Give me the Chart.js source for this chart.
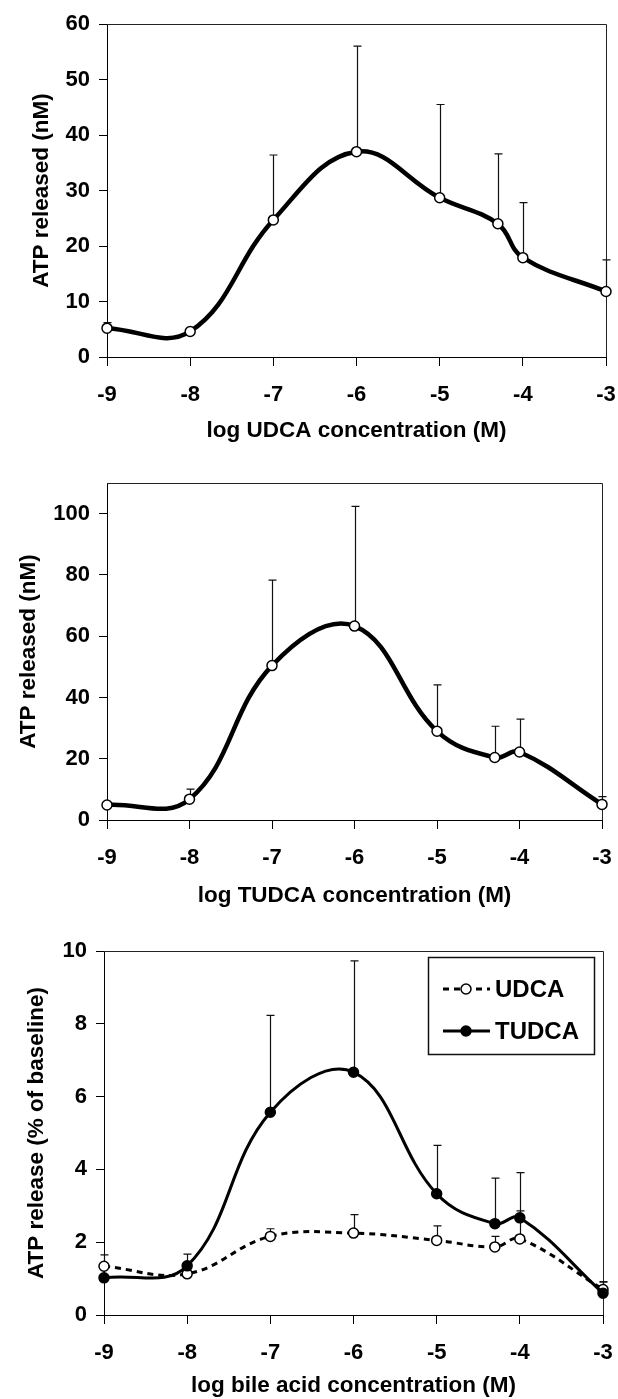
<!DOCTYPE html>
<html>
<head>
<meta charset="utf-8">
<script src="https://cdn.jsdelivr.net/npm/chart.js@4.4.1/dist/chart.umd.min.js"></script>
<style>
    html, body { margin: 0; padding: 0; background: #fff; }
    body { width: 618px; height: 1399px; position: relative; overflow: hidden; }
    canvas { position: absolute; left: 0; }
</style>
</head>
<body>
<canvas id="udcaChart" width="618" height="460" style="top:0px"></canvas>
<canvas id="tudcaChart" width="618" height="460" style="top:460px"></canvas>
<canvas id="compareChart" width="618" height="479" style="top:920px"></canvas>
<script>
// log molar concentrations (5e-5 M sits at -4.3)
const logConc = [-9, -8, -7, -6, -5, -4.3, -4, -3];
const xTicks = [-9, -8, -7, -6, -5, -4, -3];

// panel A: UDCA, ATP released (nM), mean and upper SD
const udcaNM = [5.2, 4.6, 24.7, 37.0, 28.7, 24.0, 17.9, 11.8];
const udcaNMSd = [1.0, null, 11.7, 19.0, 16.8, 12.6, 9.9, 5.7];
const udcaTicks = [0, 10, 20, 30, 40, 50, 60];

// panel B: TUDCA, ATP released (nM)
const tudcaNM = [4.9, 6.8, 50.4, 63.3, 29.0, 20.4, 22.2, 5.1];
const tudcaNMSd = [null, 3.3, 27.9, 39.1, 15.1, 10.2, 10.7, 2.5];
const tudcaTicks = [0, 20, 40, 60, 80, 100];

// panel C: ATP release (% of baseline)
const udcaPct = [1.34, 1.13, 2.16, 2.25, 2.05, 1.87, 2.09, 0.70];
const udcaPctSd = [0.31, null, 0.21, 0.51, 0.40, 0.29, 0.77, 0.20];
const tudcaPct = [1.02, 1.35, 5.57, 6.67, 3.33, 2.51, 2.67, 0.60];
const tudcaPctSd = [null, 0.32, 2.66, 3.06, 1.33, 1.25, 1.24, 0.32];
const pctTicks = [0, 2, 4, 6, 8, 10];

const FONT = "'Liberation Sans', Arial, Helvetica, sans-serif";
Chart.defaults.font.family = FONT;
Chart.defaults.color = '#000';

function toPoints(ys) {
    return logConc.map((x, i) => ({ x: x, y: ys[i] }));
}

// box round the plot area (left and bottom come from the axes)
const framePlugin = {
    id: 'frame',
    beforeDatasetsDraw(chart) {
        const a = chart.chartArea;
        const ctx = chart.ctx;
        ctx.save();
        ctx.strokeStyle = '#222';
        ctx.lineWidth = 1;
        ctx.beginPath();
        ctx.moveTo(a.left, a.top + 0.5);
        ctx.lineTo(a.right + 0.5, a.top + 0.5);
        ctx.lineTo(a.right + 0.5, a.bottom);
        ctx.stroke();
        ctx.restore();
    }
};

// upward error bars with a small cap, one sd list per dataset
function errorBarPlugin(sdLists) {
    return {
        id: 'errorBars',
        beforeDatasetsDraw(chart) {
            const ctx = chart.ctx;
            const xs = chart.scales.x;
            const ys = chart.scales.y;
            ctx.save();
            ctx.strokeStyle = '#111';
            ctx.lineWidth = 1.2;
            chart.data.datasets.forEach((ds, d) => {
                const sds = sdLists[d];
                ds.data.forEach((p, i) => {
                    if (sds[i] == null) return;
                    const px = Math.round(xs.getPixelForValue(p.x)) + 0.5;
                    const y0 = ys.getPixelForValue(p.y);
                    const y1 = ys.getPixelForValue(p.y + sds[i]);
                    ctx.beginPath();
                    ctx.moveTo(px, y0);
                    ctx.lineTo(px, y1);
                    ctx.moveTo(px - 4, y1);
                    ctx.lineTo(px + 4, y1);
                    ctx.stroke();
                });
            });
            ctx.restore();
        }
    };
}

// boxed legend in the top right corner of panel C
const boxLegendPlugin = {
    id: 'boxLegend',
    afterDraw(chart) {
        const a = chart.chartArea;
        const ctx = chart.ctx;
        const left = a.right - 175;
        const top = a.top + 6;
        ctx.save();
        ctx.strokeStyle = '#111';
        ctx.lineWidth = 1.5;
        ctx.strokeRect(left + 0.5, top + 0.5, 166, 97);
        chart.data.datasets.forEach((ds, i) => {
            const y = top + 32 + i * 42;
            ctx.strokeStyle = ds.borderColor;
            ctx.lineWidth = ds.borderWidth;
            ctx.setLineDash(ds.borderDash || []);
            ctx.beginPath();
            ctx.moveTo(left + 15, y);
            ctx.lineTo(left + 62, y);
            ctx.stroke();
            ctx.setLineDash([]);
            ctx.beginPath();
            ctx.arc(left + 38, y, 5, 0, Math.PI * 2);
            ctx.fillStyle = ds.pointBackgroundColor;
            ctx.fill();
            ctx.lineWidth = ds.pointBorderWidth;
            ctx.strokeStyle = ds.pointBorderColor;
            ctx.stroke();
            ctx.fillStyle = '#000';
            ctx.font = 'bold 24px ' + FONT;
            ctx.textBaseline = 'middle';
            ctx.fillText(ds.label, left + 67, y + 1);
        });
        ctx.restore();
    }
};

function xAxis(title, height) {
    return {
        type: 'linear',
        min: -9,
        max: -3,
        afterBuildTicks: (s) => { s.ticks = xTicks.map(v => ({ value: v })); },
        afterFit: (s) => { s.height = height; s.paddingLeft = 0; s.paddingRight = 0; },
        grid: { drawOnChartArea: false, tickLength: 9, color: '#000', lineWidth: 1 },
        border: { color: '#000', width: 1 },
        ticks: { padding: 15.5, maxRotation: 0, autoSkip: false, font: { size: 22, weight: 'bold' } },
        title: {
            display: true,
            text: title,
            font: { size: 22.5, weight: 'bold', lineHeight: 1 },
            padding: { top: 0, bottom: 0 }
        }
    };
}

function yAxis(title, max, ticks, width, titlePad) {
    return {
        min: 0,
        max: max,
        afterBuildTicks: (s) => { s.ticks = ticks.map(v => ({ value: v })); },
        afterFit: (s) => { s.width = width; s.paddingTop = 0; s.paddingBottom = 0; },
        grid: { drawOnChartArea: false, tickLength: 8, color: '#000', lineWidth: 1 },
        border: { color: '#000', width: 1 },
        ticks: { padding: 9, font: { size: 22, weight: 'bold' } },
        title: {
            display: true,
            text: title,
            font: { size: 22.5, weight: 'bold', lineHeight: 1 },
            padding: { top: titlePad, bottom: 0 }
        }
    };
}

function openLine(label, ys, width) {
    return {
        label: label,
        data: toPoints(ys),
        borderColor: '#000',
        borderWidth: width,
        tension: 0.4,
        pointRadius: 5,
        pointBackgroundColor: '#fff',
        pointBorderColor: '#000',
        pointBorderWidth: 1.5,
        clip: false
    };
}

const baseOptions = {
    responsive: false,
    animation: false,
    devicePixelRatio: 1,
    plugins: { legend: { display: false }, tooltip: { enabled: false } }
};

// Panel A
new Chart(document.getElementById('udcaChart').getContext('2d'), {
    type: 'line',
    data: { datasets: [openLine('UDCA', udcaNM, 4.5)] },
    options: Object.assign({}, baseOptions, {
        layout: { padding: { top: 24, right: 12, bottom: 17.5, left: 0 } },
        scales: {
            x: xAxis('log UDCA concentration (M)', 85.5),
            y: yAxis('ATP released (nM)', 60, udcaTicks, 107, 31)
        }
    }),
    plugins: [framePlugin, errorBarPlugin([udcaNMSd])]
});

// Panel B
new Chart(document.getElementById('tudcaChart').getContext('2d'), {
    type: 'line',
    data: { datasets: [openLine('TUDCA', tudcaNM, 4.5)] },
    options: Object.assign({}, baseOptions, {
        layout: { padding: { top: 23, right: 16, bottom: 12.5, left: 0 } },
        scales: {
            x: xAxis('log TUDCA concentration (M)', 87.5),
            y: yAxis('ATP released (nM)', 110, tudcaTicks, 107, 18)
        }
    }),
    plugins: [framePlugin, errorBarPlugin([tudcaNMSd])]
});

// Panel C
const udcaSet = openLine('UDCA', udcaPct, 3);
udcaSet.borderDash = [6, 5];
udcaSet.order = 2;
const tudcaSet = openLine('TUDCA', tudcaPct, 3);
tudcaSet.pointBackgroundColor = '#000';
tudcaSet.order = 1;

new Chart(document.getElementById('compareChart').getContext('2d'), {
    type: 'line',
    data: { datasets: [udcaSet, tudcaSet] },
    options: Object.assign({}, baseOptions, {
        layout: { padding: { top: 31, right: 15, bottom: 1.5, left: 0 } },
        scales: {
            x: xAxis('log bile acid concentration (M)', 82.5),
            y: yAxis('ATP release (% of baseline)', 10, pctTicks, 104, 26)
        }
    }),
    plugins: [framePlugin, errorBarPlugin([udcaPctSd, tudcaPctSd]), boxLegendPlugin]
});
</script>
</body>
</html>
